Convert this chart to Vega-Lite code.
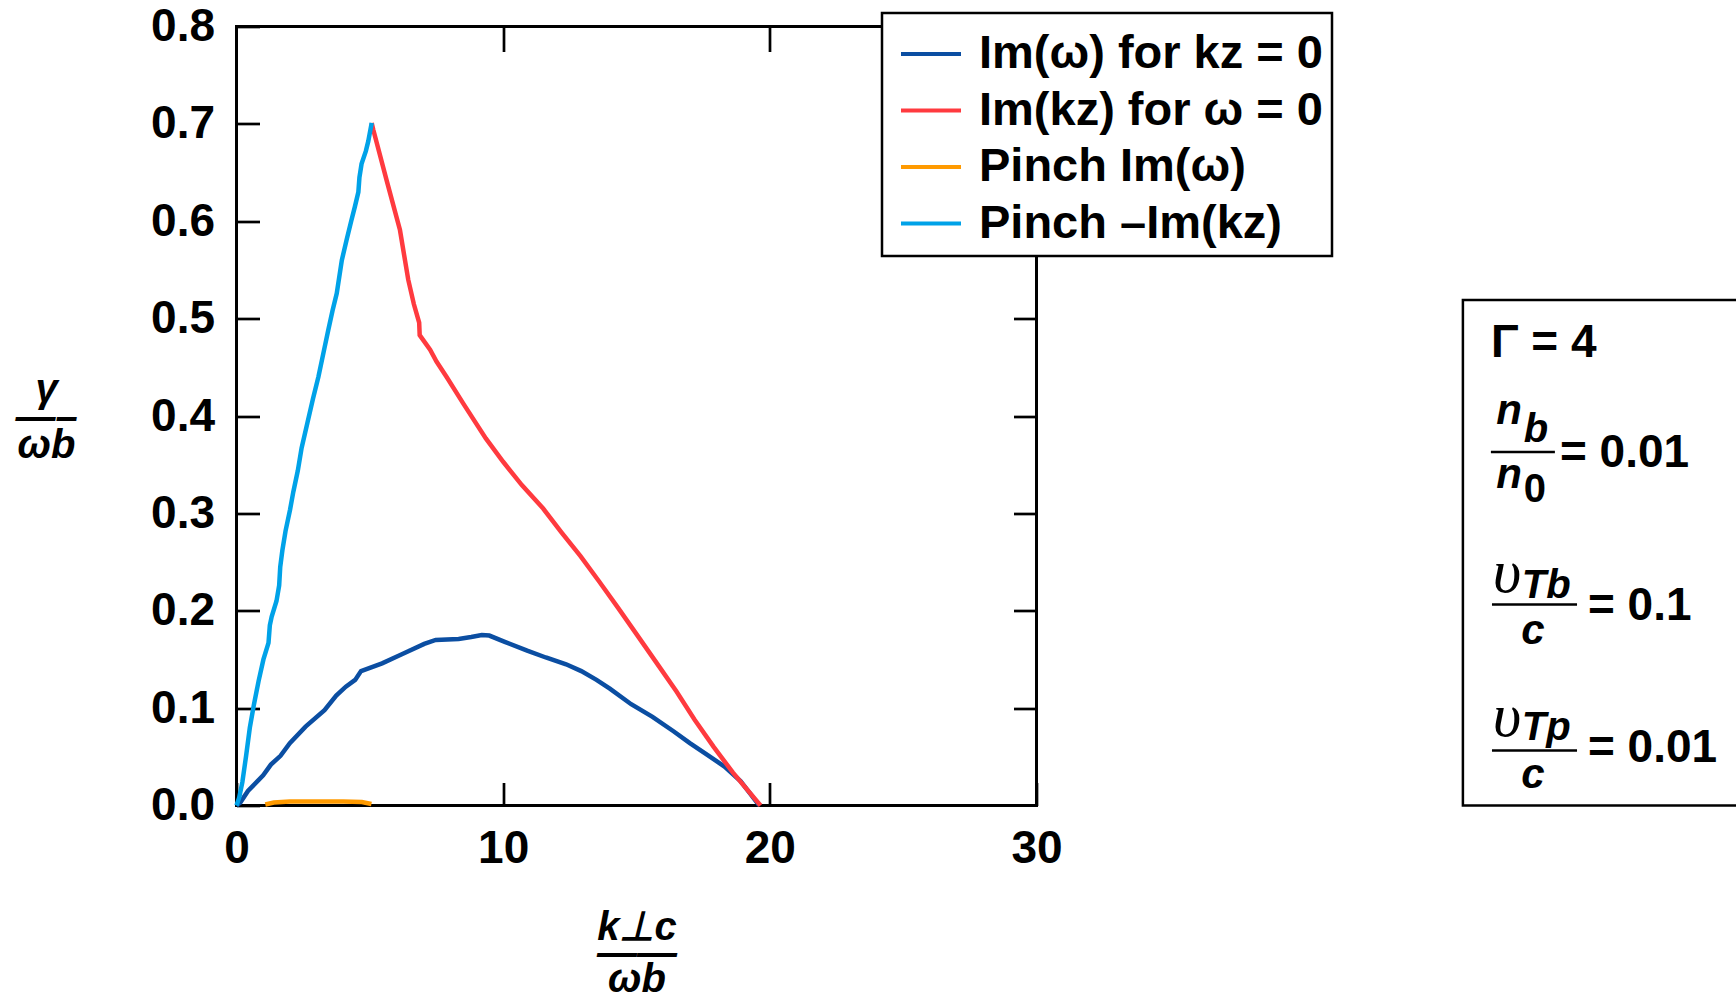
{
  "$schema": "https://vega.github.io/schema/vega-lite/v6.json",
  "autosize": {"type": "none"},
  "padding": {"left": 236.5, "top": 26.5, "right": 699.5, "bottom": 201.5},
  "width": 800,
  "height": 779,
  "background": "white",
  "config": {
    "view": {"stroke": "black", "strokeWidth": 3},
    "axis": {
      "labelFont": "Liberation Sans", "labelFontWeight": "bold", "labelFontSize": 46, "labelColor": "black",
      "tickColor": "black", "tickWidth": 2.7, "domain": false, "grid": false,
      "labelFlush": false, "labelOverlap": false, "titleLimit": 1000,
      "titleFont": "Liberation Sans", "titleFontWeight": "bold", "titleFontStyle": "italic", "titleFontSize": 40, "titleColor": "black"
    },
    "legend": {
      "orient": "none", "legendX": 645.5, "legendY": -13.5,
      "labelFont": "Liberation Sans", "labelFontWeight": "bold", "labelFontSize": 47, "labelColor": "black", "labelLimit": 1000,
      "symbolType": "stroke", "symbolSize": 3600, "symbolStrokeWidth": 4, "symbolOffset": 8,
      "padding": 9, "rowPadding": 1.5, "labelOffset": 16,
      "strokeColor": "black", "strokeWidth": 2.5, "fillColor": "white"
    }
  },
  "datasets": {
    "curves": [
      {"series": "Im(ω) for kz = 0", "x": 0, "y": 0},
      {"series": "Im(ω) for kz = 0", "x": 0.14, "y": 0.003},
      {"series": "Im(ω) for kz = 0", "x": 0.43, "y": 0.015},
      {"series": "Im(ω) for kz = 0", "x": 1.0, "y": 0.031},
      {"series": "Im(ω) for kz = 0", "x": 1.29, "y": 0.042},
      {"series": "Im(ω) for kz = 0", "x": 1.65, "y": 0.051},
      {"series": "Im(ω) for kz = 0", "x": 2.0, "y": 0.064},
      {"series": "Im(ω) for kz = 0", "x": 2.59, "y": 0.081},
      {"series": "Im(ω) for kz = 0", "x": 3.3, "y": 0.098},
      {"series": "Im(ω) for kz = 0", "x": 3.74, "y": 0.113},
      {"series": "Im(ω) for kz = 0", "x": 4.1, "y": 0.122},
      {"series": "Im(ω) for kz = 0", "x": 4.45, "y": 0.129},
      {"series": "Im(ω) for kz = 0", "x": 4.67, "y": 0.138},
      {"series": "Im(ω) for kz = 0", "x": 5.46, "y": 0.146},
      {"series": "Im(ω) for kz = 0", "x": 6.18, "y": 0.155},
      {"series": "Im(ω) for kz = 0", "x": 7.04, "y": 0.166},
      {"series": "Im(ω) for kz = 0", "x": 7.47, "y": 0.170},
      {"series": "Im(ω) for kz = 0", "x": 8.33, "y": 0.171},
      {"series": "Im(ω) for kz = 0", "x": 8.8, "y": 0.173},
      {"series": "Im(ω) for kz = 0", "x": 9.2, "y": 0.175},
      {"series": "Im(ω) for kz = 0", "x": 9.48, "y": 0.1745},
      {"series": "Im(ω) for kz = 0", "x": 10.06, "y": 0.168},
      {"series": "Im(ω) for kz = 0", "x": 10.9, "y": 0.159},
      {"series": "Im(ω) for kz = 0", "x": 11.6, "y": 0.152},
      {"series": "Im(ω) for kz = 0", "x": 12.36, "y": 0.145},
      {"series": "Im(ω) for kz = 0", "x": 12.93, "y": 0.138},
      {"series": "Im(ω) for kz = 0", "x": 13.5, "y": 0.129},
      {"series": "Im(ω) for kz = 0", "x": 14.0, "y": 0.120},
      {"series": "Im(ω) for kz = 0", "x": 14.8, "y": 0.104},
      {"series": "Im(ω) for kz = 0", "x": 15.6, "y": 0.091},
      {"series": "Im(ω) for kz = 0", "x": 16.4, "y": 0.076},
      {"series": "Im(ω) for kz = 0", "x": 17.0, "y": 0.064},
      {"series": "Im(ω) for kz = 0", "x": 17.6, "y": 0.053},
      {"series": "Im(ω) for kz = 0", "x": 18.3, "y": 0.040},
      {"series": "Im(ω) for kz = 0", "x": 18.9, "y": 0.025},
      {"series": "Im(ω) for kz = 0", "x": 19.3, "y": 0.011},
      {"series": "Im(ω) for kz = 0", "x": 19.6, "y": 0},
      {"series": "Im(kz) for ω = 0", "x": 5.07, "y": 0.701},
      {"series": "Im(kz) for ω = 0", "x": 5.13, "y": 0.694},
      {"series": "Im(kz) for ω = 0", "x": 5.63, "y": 0.642},
      {"series": "Im(kz) for ω = 0", "x": 6.13, "y": 0.591},
      {"series": "Im(kz) for ω = 0", "x": 6.44, "y": 0.540},
      {"series": "Im(kz) for ω = 0", "x": 6.65, "y": 0.515},
      {"series": "Im(kz) for ω = 0", "x": 6.85, "y": 0.496},
      {"series": "Im(kz) for ω = 0", "x": 6.87, "y": 0.483},
      {"series": "Im(kz) for ω = 0", "x": 7.26, "y": 0.468},
      {"series": "Im(kz) for ω = 0", "x": 7.5, "y": 0.456},
      {"series": "Im(kz) for ω = 0", "x": 7.88, "y": 0.440},
      {"series": "Im(kz) for ω = 0", "x": 8.5, "y": 0.413},
      {"series": "Im(kz) for ω = 0", "x": 9.35, "y": 0.377},
      {"series": "Im(kz) for ω = 0", "x": 10.0, "y": 0.353},
      {"series": "Im(kz) for ω = 0", "x": 10.7, "y": 0.329},
      {"series": "Im(kz) for ω = 0", "x": 11.5, "y": 0.305},
      {"series": "Im(kz) for ω = 0", "x": 12.2, "y": 0.280},
      {"series": "Im(kz) for ω = 0", "x": 12.9, "y": 0.256},
      {"series": "Im(kz) for ω = 0", "x": 13.6, "y": 0.230},
      {"series": "Im(kz) for ω = 0", "x": 14.31, "y": 0.203},
      {"series": "Im(kz) for ω = 0", "x": 15.0, "y": 0.176},
      {"series": "Im(kz) for ω = 0", "x": 15.74, "y": 0.147},
      {"series": "Im(kz) for ω = 0", "x": 16.5, "y": 0.117},
      {"series": "Im(kz) for ω = 0", "x": 17.18, "y": 0.088},
      {"series": "Im(kz) for ω = 0", "x": 17.9, "y": 0.060},
      {"series": "Im(kz) for ω = 0", "x": 18.61, "y": 0.034},
      {"series": "Im(kz) for ω = 0", "x": 19.65, "y": 0},
      {"series": "Pinch Im(ω)", "x": 1.08, "y": 0.001},
      {"series": "Pinch Im(ω)", "x": 1.4, "y": 0.003},
      {"series": "Pinch Im(ω)", "x": 2.0, "y": 0.004},
      {"series": "Pinch Im(ω)", "x": 3.0, "y": 0.0042},
      {"series": "Pinch Im(ω)", "x": 4.0, "y": 0.0042},
      {"series": "Pinch Im(ω)", "x": 4.7, "y": 0.0035},
      {"series": "Pinch Im(ω)", "x": 5.06, "y": 0.0015},
      {"series": "Pinch –Im(kz)", "x": 0, "y": 0},
      {"series": "Pinch –Im(kz)", "x": 0.1, "y": 0.008},
      {"series": "Pinch –Im(kz)", "x": 0.22, "y": 0.024},
      {"series": "Pinch –Im(kz)", "x": 0.36, "y": 0.051},
      {"series": "Pinch –Im(kz)", "x": 0.5, "y": 0.080},
      {"series": "Pinch –Im(kz)", "x": 0.65, "y": 0.103},
      {"series": "Pinch –Im(kz)", "x": 0.83, "y": 0.128},
      {"series": "Pinch –Im(kz)", "x": 1.01, "y": 0.150},
      {"series": "Pinch –Im(kz)", "x": 1.2, "y": 0.167},
      {"series": "Pinch –Im(kz)", "x": 1.25, "y": 0.185},
      {"series": "Pinch –Im(kz)", "x": 1.32, "y": 0.194},
      {"series": "Pinch –Im(kz)", "x": 1.5, "y": 0.210},
      {"series": "Pinch –Im(kz)", "x": 1.6, "y": 0.226},
      {"series": "Pinch –Im(kz)", "x": 1.64, "y": 0.245},
      {"series": "Pinch –Im(kz)", "x": 1.72, "y": 0.262},
      {"series": "Pinch –Im(kz)", "x": 1.84, "y": 0.282},
      {"series": "Pinch –Im(kz)", "x": 2.01, "y": 0.304},
      {"series": "Pinch –Im(kz)", "x": 2.13, "y": 0.322},
      {"series": "Pinch –Im(kz)", "x": 2.3, "y": 0.344},
      {"series": "Pinch –Im(kz)", "x": 2.44, "y": 0.367},
      {"series": "Pinch –Im(kz)", "x": 2.66, "y": 0.393},
      {"series": "Pinch –Im(kz)", "x": 2.87, "y": 0.418},
      {"series": "Pinch –Im(kz)", "x": 3.07, "y": 0.440},
      {"series": "Pinch –Im(kz)", "x": 3.3, "y": 0.470},
      {"series": "Pinch –Im(kz)", "x": 3.44, "y": 0.488},
      {"series": "Pinch –Im(kz)", "x": 3.6, "y": 0.508},
      {"series": "Pinch –Im(kz)", "x": 3.76, "y": 0.526},
      {"series": "Pinch –Im(kz)", "x": 3.95, "y": 0.560},
      {"series": "Pinch –Im(kz)", "x": 4.13, "y": 0.581},
      {"series": "Pinch –Im(kz)", "x": 4.3, "y": 0.600},
      {"series": "Pinch –Im(kz)", "x": 4.44, "y": 0.615},
      {"series": "Pinch –Im(kz)", "x": 4.57, "y": 0.630},
      {"series": "Pinch –Im(kz)", "x": 4.61, "y": 0.645},
      {"series": "Pinch –Im(kz)", "x": 4.69, "y": 0.659},
      {"series": "Pinch –Im(kz)", "x": 4.85, "y": 0.672},
      {"series": "Pinch –Im(kz)", "x": 4.94, "y": 0.682},
      {"series": "Pinch –Im(kz)", "x": 5.07, "y": 0.701}
    ]
  },
  "layer": [
    {
      "data": {"name": "curves"},
      "mark": {"type": "line", "strokeWidth": 4.5},
      "encoding": {
        "x": {"field": "x", "type": "quantitative", "scale": {"domain": [0, 30], "nice": false, "zero": false},
          "axis": {"orient": "bottom", "values": [0, 10, 20, 30], "tickSize": -23, "labelPadding": 44,
            "title": ["k⊥c", "——", "ωb"], "titleLineHeight": 26, "titleX": 400, "titleY": 121.5, "titleAlign": "center", "titleBaseline": "middle", "titleAngle": 0}},
        "y": {"field": "y", "type": "quantitative", "scale": {"domain": [0, 0.8], "nice": false, "zero": false},
          "axis": {"orient": "left", "values": [0, 0.1, 0.2, 0.3, 0.4, 0.5, 0.6, 0.7, 0.8], "format": ".1f", "tickSize": -23, "labelPadding": 45,
            "title": ["γ", "—–", "ωb"], "titleLineHeight": 28, "titleX": -190.5, "titleY": 363, "titleAlign": "center", "titleBaseline": "middle", "titleAngle": 0}},
        "color": {"field": "series", "type": "nominal",
          "scale": {"domain": ["Im(ω) for kz = 0", "Im(kz) for ω = 0", "Pinch Im(ω)", "Pinch –Im(kz)"],
                    "range": ["#0b4ea2", "#ff3a3f", "#ff9a00", "#00a2e8"]},
          "legend": {"title": null}}
      }
    },
    {
      "data": {"name": "curves"},
      "mark": {"type": "point", "opacity": 0},
      "encoding": {
        "x": {"field": "x", "type": "quantitative", "axis": {"orient": "top", "values": [10, 20], "tickSize": -25, "labels": false, "title": null}},
        "y": {"field": "y", "type": "quantitative", "axis": {"orient": "right", "values": [0.1, 0.2, 0.3, 0.4, 0.5, 0.6, 0.7], "tickSize": -23, "labels": false, "title": null}}
      }
    },
    {
      "data": {"values": [{"label": "parameters"}]},
      "mark": {"type": "rect", "fillOpacity": 0, "stroke": "black", "strokeWidth": 2.5},
      "encoding": {
        "x": {"datum": 45.99, "type": "quantitative", "axis": null}, "x2": {"datum": 57},
        "y": {"datum": 0, "type": "quantitative", "axis": null}, "y2": {"datum": 0.519}
      }
    },
    {
      "data": {"values": [{"label": "fraction"}]},
      "mark": {"type": "rule", "stroke": "black", "strokeWidth": 2.5},
      "encoding": {
        "x": {"datum": 47.04, "type": "quantitative", "axis": null}, "x2": {"datum": 49.44},
        "y": {"datum": 0.363, "type": "quantitative", "axis": null}
      }
    },
    {
      "data": {"values": [{"label": "fraction"}]},
      "mark": {"type": "rule", "stroke": "black", "strokeWidth": 2.5},
      "encoding": {
        "x": {"datum": 47.08, "type": "quantitative", "axis": null}, "x2": {"datum": 50.27},
        "y": {"datum": 0.2064, "type": "quantitative", "axis": null}
      }
    },
    {
      "data": {"values": [{"label": "fraction"}]},
      "mark": {"type": "rule", "stroke": "black", "strokeWidth": 2.5},
      "encoding": {
        "x": {"datum": 47.08, "type": "quantitative", "axis": null}, "x2": {"datum": 50.27},
        "y": {"datum": 0.0564, "type": "quantitative", "axis": null}
      }
    },
    {
      "data": {"values": [{"label": "Γ = 4"}]},
      "mark": {"type": "text", "align": "left", "baseline": "alphabetic", "font": "Liberation Sans", "fontWeight": "bold", "fontSize": 46},
      "encoding": {"x": {"datum": 47.04, "type": "quantitative", "axis": null}, "y": {"datum": 0.4606, "type": "quantitative", "axis": null}, "text": {"field": "label"}}
    },
    {
      "data": {"values": [{"label": "n"}]},
      "mark": {"type": "text", "align": "center", "baseline": "alphabetic", "font": "Liberation Sans", "fontWeight": "bold", "fontStyle": "italic", "fontSize": 42},
      "encoding": {"x": {"datum": 47.72, "type": "quantitative", "axis": null}, "y": {"datum": 0.3918, "type": "quantitative", "axis": null}, "text": {"field": "label"}}
    },
    {
      "data": {"values": [{"label": "b"}]},
      "mark": {"type": "text", "align": "center", "baseline": "alphabetic", "font": "Liberation Sans", "fontWeight": "bold", "fontStyle": "italic", "fontSize": 40},
      "encoding": {"x": {"datum": 48.73, "type": "quantitative", "axis": null}, "y": {"datum": 0.3733, "type": "quantitative", "axis": null}, "text": {"field": "label"}}
    },
    {
      "data": {"values": [{"label": "n"}]},
      "mark": {"type": "text", "align": "center", "baseline": "alphabetic", "font": "Liberation Sans", "fontWeight": "bold", "fontStyle": "italic", "fontSize": 42},
      "encoding": {"x": {"datum": 47.72, "type": "quantitative", "axis": null}, "y": {"datum": 0.3261, "type": "quantitative", "axis": null}, "text": {"field": "label"}}
    },
    {
      "data": {"values": [{"label": "0"}]},
      "mark": {"type": "text", "align": "center", "baseline": "alphabetic", "font": "Liberation Sans", "fontWeight": "bold", "fontSize": 40},
      "encoding": {"x": {"datum": 48.69, "type": "quantitative", "axis": null}, "y": {"datum": 0.3117, "type": "quantitative", "axis": null}, "text": {"field": "label"}}
    },
    {
      "data": {"values": [{"label": "= 0.01"}]},
      "mark": {"type": "text", "align": "left", "baseline": "alphabetic", "font": "Liberation Sans", "fontWeight": "bold", "fontSize": 46},
      "encoding": {"x": {"datum": 49.63, "type": "quantitative", "axis": null}, "y": {"datum": 0.3476, "type": "quantitative", "axis": null}, "text": {"field": "label"}}
    },
    {
      "data": {"values": [{"label": "υ"}]},
      "mark": {"type": "text", "align": "center", "baseline": "alphabetic", "font": "Liberation Serif", "fontStyle": "italic", "fontSize": 62},
      "encoding": {"x": {"datum": 47.64, "type": "quantitative", "axis": null}, "y": {"datum": 0.219, "type": "quantitative", "axis": null}, "text": {"field": "label"}}
    },
    {
      "data": {"values": [{"label": "Tb"}]},
      "mark": {"type": "text", "align": "left", "baseline": "alphabetic", "font": "Liberation Sans", "fontWeight": "bold", "fontStyle": "italic", "fontSize": 40},
      "encoding": {"x": {"datum": 48.2, "type": "quantitative", "axis": null}, "y": {"datum": 0.213, "type": "quantitative", "axis": null}, "text": {"field": "label"}}
    },
    {
      "data": {"values": [{"label": "c"}]},
      "mark": {"type": "text", "align": "center", "baseline": "alphabetic", "font": "Liberation Sans", "fontWeight": "bold", "fontStyle": "italic", "fontSize": 42},
      "encoding": {"x": {"datum": 48.62, "type": "quantitative", "axis": null}, "y": {"datum": 0.1659, "type": "quantitative", "axis": null}, "text": {"field": "label"}}
    },
    {
      "data": {"values": [{"label": "= 0.1"}]},
      "mark": {"type": "text", "align": "left", "baseline": "alphabetic", "font": "Liberation Sans", "fontWeight": "bold", "fontSize": 46},
      "encoding": {"x": {"datum": 50.68, "type": "quantitative", "axis": null}, "y": {"datum": 0.1905, "type": "quantitative", "axis": null}, "text": {"field": "label"}}
    },
    {
      "data": {"values": [{"label": "υ"}]},
      "mark": {"type": "text", "align": "center", "baseline": "alphabetic", "font": "Liberation Serif", "fontStyle": "italic", "fontSize": 62},
      "encoding": {"x": {"datum": 47.64, "type": "quantitative", "axis": null}, "y": {"datum": 0.0714, "type": "quantitative", "axis": null}, "text": {"field": "label"}}
    },
    {
      "data": {"values": [{"label": "Tp"}]},
      "mark": {"type": "text", "align": "left", "baseline": "alphabetic", "font": "Liberation Sans", "fontWeight": "bold", "fontStyle": "italic", "fontSize": 40},
      "encoding": {"x": {"datum": 48.2, "type": "quantitative", "axis": null}, "y": {"datum": 0.0673, "type": "quantitative", "axis": null}, "text": {"field": "label"}}
    },
    {
      "data": {"values": [{"label": "c"}]},
      "mark": {"type": "text", "align": "center", "baseline": "alphabetic", "font": "Liberation Sans", "fontWeight": "bold", "fontStyle": "italic", "fontSize": 42},
      "encoding": {"x": {"datum": 48.62, "type": "quantitative", "axis": null}, "y": {"datum": 0.018, "type": "quantitative", "axis": null}, "text": {"field": "label"}}
    },
    {
      "data": {"values": [{"label": "= 0.01"}]},
      "mark": {"type": "text", "align": "left", "baseline": "alphabetic", "font": "Liberation Sans", "fontWeight": "bold", "fontSize": 46},
      "encoding": {"x": {"datum": 50.68, "type": "quantitative", "axis": null}, "y": {"datum": 0.0447, "type": "quantitative", "axis": null}, "text": {"field": "label"}}
    }
  ],
  "resolve": {"axis": {"x": "independent", "y": "independent"}}
}
